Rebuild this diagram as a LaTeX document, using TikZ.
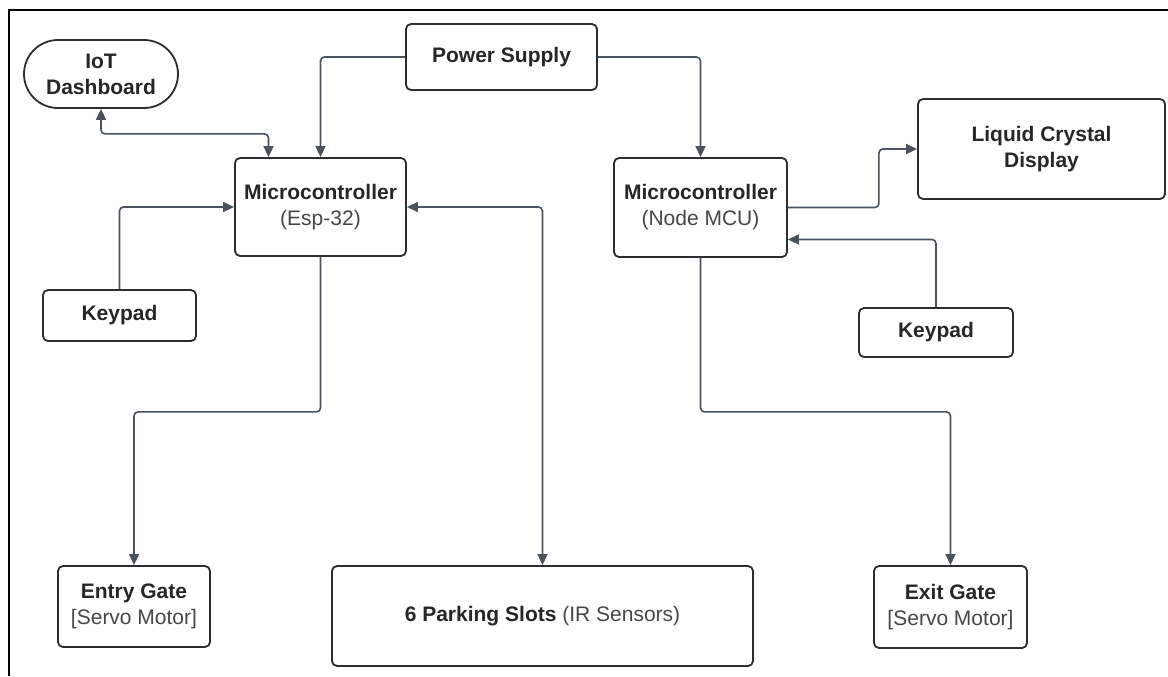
\documentclass[tikz,border=0pt]{standalone}
\usepackage{fontspec}
\setmainfont{Liberation Sans}
\usepackage{tikz}
\usetikzlibrary{arrows.meta}
\definecolor{wire}{RGB}{74,82,94}
\definecolor{edge}{RGB}{45,45,48}
\definecolor{sub}{RGB}{70,70,72}
\tikzset{
	>={Triangle[length=5.5pt,width=5pt]}, % filled heads on the links
	block/.style={rectangle, rounded corners=2.5pt, draw=edge, line width=0.9pt, align=center,
		font=\fontsize{10.5}{13}\selectfont, text=black!85, inner sep=2pt}, % every box
	pill/.style={block, rounded corners=17pt}, % the dashboard
	link/.style={draw=wire, line width=0.8pt, rounded corners=2pt}, % connectors
}
\newcommand{\lite}[1]{{\mdseries\color{sub}#1}}

\begin{document}
\begin{tikzpicture}[x=0.5pt, y=-0.5pt]
	\useasboundingbox (0,0) rectangle (1168,676);
	% frame of the page
	\draw[line width=1.3pt] (9,676) -- (9,10) -- (1168,10);

	\node (iot)   at (101,74)      [pill,  minimum width=77pt,   minimum height=34pt]   {\bfseries IoT\\\bfseries Dashboard};
	\node (power) at (501.5,57)    [block, minimum width=95.5pt, minimum height=33pt]   {\bfseries Power Supply};
	\node (esp)   at (320.5,207)   [block, minimum width=85.5pt, minimum height=49pt]   {\bfseries Microcontroller\\\lite{(Esp-32)}};
	\node (mcu)   at (700.5,207.5) [block, minimum width=86.5pt, minimum height=49.5pt] {\bfseries Microcontroller\\\lite{(Node MCU)}};
	\node (lcd)   at (1041.5,149)  [block, minimum width=123.5pt, minimum height=50pt]  {\bfseries Liquid Crystal\\\bfseries Display};
	\node (kpl)   at (119.5,315.5) [block, minimum width=76.5pt, minimum height=25.5pt] {\bfseries Keypad};
	\node (kpr)   at (936,332.5)   [block, minimum width=77pt,   minimum height=24.5pt] {\bfseries Keypad};
	\node (entry) at (134,606.5)   [block, minimum width=76pt,   minimum height=40.5pt] {\bfseries Entry Gate\\\lite{[Servo Motor]}};
	\node (park)  at (542.5,616)   [block, minimum width=210.5pt, minimum height=50pt]  {\bfseries 6 Parking Slots \lite{(IR Sensors)}};
	\node (exit)  at (950.5,607)   [block, minimum width=76.5pt, minimum height=41pt]   {\bfseries Exit Gate\\\lite{[Servo Motor]}};

	% power to both controllers
	\draw[link,->] (power.west) -| (esp.north);
	\draw[link,->] (power.east) -| (mcu.north);
	% esp-32 side
	\draw[link,<->] (iot.south) -- ++(0,25) -| ([xshift=-26pt]esp.north);
	\draw[link,->] (kpl.north) |- (esp.west);
	\draw[link,<->] (esp.east) -| (park.north);
	\draw[link,->] (esp.south) -- ++(0,155) -| (entry.north);
	% node mcu side
	\draw[link,->] (mcu.east) -- ++(91,0) |- (lcd.west);
	\draw[link,->] (kpr.north) |- ([yshift=-16pt]mcu.east);
	\draw[link,->] (mcu.south) -- ++(0,154) -| (exit.north);
\end{tikzpicture}
\end{document}
